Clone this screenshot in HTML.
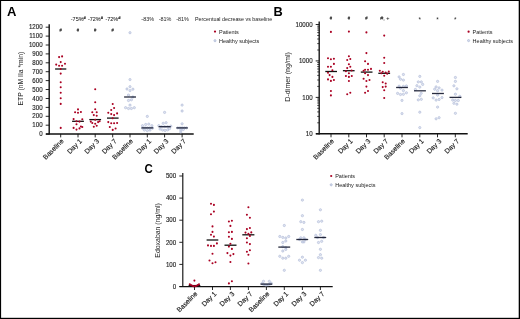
<!DOCTYPE html>
<html lang="en">
<head>
<meta charset="utf-8">
<title>Figure</title>
<style>
html,body{margin:0;padding:0;background:#fff;}
body{width:520px;height:319px;overflow:hidden;}
svg{display:block;font-family:"Liberation Sans", sans-serif;}
.c{stroke:#1a1a1a;stroke-width:0.06px;}
.b{stroke:#1a1a1a;stroke-width:0.13px;stroke-linejoin:round;}
</style>
</head>
<body>
<svg width="520" height="319" viewBox="0 0 520 319">
<rect x="0" y="0" width="520" height="319" fill="#ffffff"/>
<text transform="translate(6.90 15.80) scale(1.06 1)" font-size="12.3" text-anchor="start" font-weight="bold" fill="#000">A</text>
<line x1="49.2" y1="24.2" x2="49.2" y2="134.5" stroke="#111111" stroke-width="1.4"/>
<line x1="45.900000000000006" y1="133.9" x2="193.7" y2="133.9" stroke="#111111" stroke-width="1.45"/>
<line x1="45.7" y1="134.1" x2="49.2" y2="134.1" stroke="#111111" stroke-width="0.9"/>
<text class="b" transform="translate(42.60 136.30) scale(0.88 1)" font-size="7.0" text-anchor="end" font-weight="normal" fill="#1a1a1a">0</text>
<line x1="45.7" y1="125.2" x2="49.2" y2="125.2" stroke="#111111" stroke-width="0.9"/>
<text class="b" transform="translate(42.60 127.39) scale(0.88 1)" font-size="7.0" text-anchor="end" font-weight="normal" fill="#1a1a1a">100</text>
<line x1="45.7" y1="116.3" x2="49.2" y2="116.3" stroke="#111111" stroke-width="0.9"/>
<text class="b" transform="translate(42.60 118.48) scale(0.88 1)" font-size="7.0" text-anchor="end" font-weight="normal" fill="#1a1a1a">200</text>
<line x1="45.7" y1="107.4" x2="49.2" y2="107.4" stroke="#111111" stroke-width="0.9"/>
<text class="b" transform="translate(42.60 109.57) scale(0.88 1)" font-size="7.0" text-anchor="end" font-weight="normal" fill="#1a1a1a">300</text>
<line x1="45.7" y1="98.5" x2="49.2" y2="98.5" stroke="#111111" stroke-width="0.9"/>
<text class="b" transform="translate(42.60 100.66) scale(0.88 1)" font-size="7.0" text-anchor="end" font-weight="normal" fill="#1a1a1a">400</text>
<line x1="45.7" y1="89.5" x2="49.2" y2="89.5" stroke="#111111" stroke-width="0.9"/>
<text class="b" transform="translate(42.60 91.75) scale(0.88 1)" font-size="7.0" text-anchor="end" font-weight="normal" fill="#1a1a1a">500</text>
<line x1="45.7" y1="80.6" x2="49.2" y2="80.6" stroke="#111111" stroke-width="0.9"/>
<text class="b" transform="translate(42.60 82.84) scale(0.88 1)" font-size="7.0" text-anchor="end" font-weight="normal" fill="#1a1a1a">600</text>
<line x1="45.7" y1="71.7" x2="49.2" y2="71.7" stroke="#111111" stroke-width="0.9"/>
<text class="b" transform="translate(42.60 73.93) scale(0.88 1)" font-size="7.0" text-anchor="end" font-weight="normal" fill="#1a1a1a">700</text>
<line x1="45.7" y1="62.8" x2="49.2" y2="62.8" stroke="#111111" stroke-width="0.9"/>
<text class="b" transform="translate(42.60 65.02) scale(0.88 1)" font-size="7.0" text-anchor="end" font-weight="normal" fill="#1a1a1a">800</text>
<line x1="45.7" y1="53.9" x2="49.2" y2="53.9" stroke="#111111" stroke-width="0.9"/>
<text class="b" transform="translate(42.60 56.11) scale(0.88 1)" font-size="7.0" text-anchor="end" font-weight="normal" fill="#1a1a1a">900</text>
<line x1="45.7" y1="45.0" x2="49.2" y2="45.0" stroke="#111111" stroke-width="0.9"/>
<text class="b" transform="translate(42.60 47.20) scale(0.88 1)" font-size="7.0" text-anchor="end" font-weight="normal" fill="#1a1a1a">1000</text>
<line x1="45.7" y1="36.1" x2="49.2" y2="36.1" stroke="#111111" stroke-width="0.9"/>
<text class="b" transform="translate(42.60 38.29) scale(0.88 1)" font-size="7.0" text-anchor="end" font-weight="normal" fill="#1a1a1a">1100</text>
<line x1="45.7" y1="27.2" x2="49.2" y2="27.2" stroke="#111111" stroke-width="0.9"/>
<text class="b" transform="translate(42.60 29.38) scale(0.88 1)" font-size="7.0" text-anchor="end" font-weight="normal" fill="#1a1a1a">1200</text>
<line x1="60.7" y1="133.9" x2="60.7" y2="137.4" stroke="#111111" stroke-width="0.9"/>
<text class="b" transform="translate(64.10 141.70) rotate(-45)" font-size="6.75" text-anchor="end" font-weight="normal" fill="#1a1a1a">Baseline</text>
<line x1="78.0" y1="133.9" x2="78.0" y2="137.4" stroke="#111111" stroke-width="0.9"/>
<text class="b" transform="translate(82.40 141.70) rotate(-45)" font-size="6.75" text-anchor="end" font-weight="normal" fill="#1a1a1a">Day 1</text>
<line x1="95.2" y1="133.9" x2="95.2" y2="137.4" stroke="#111111" stroke-width="0.9"/>
<text class="b" transform="translate(99.60 141.70) rotate(-45)" font-size="6.75" text-anchor="end" font-weight="normal" fill="#1a1a1a">Day 3</text>
<line x1="112.7" y1="133.9" x2="112.7" y2="137.4" stroke="#111111" stroke-width="0.9"/>
<text class="b" transform="translate(117.10 141.70) rotate(-45)" font-size="6.75" text-anchor="end" font-weight="normal" fill="#1a1a1a">Day 7</text>
<line x1="130.0" y1="133.9" x2="130.0" y2="137.4" stroke="#111111" stroke-width="0.9"/>
<text class="b" transform="translate(133.40 141.70) rotate(-45)" font-size="6.75" text-anchor="end" font-weight="normal" fill="#1a1a1a">Baseline</text>
<line x1="147.3" y1="133.9" x2="147.3" y2="137.4" stroke="#111111" stroke-width="0.9"/>
<text class="b" transform="translate(151.70 141.70) rotate(-45)" font-size="6.75" text-anchor="end" font-weight="normal" fill="#1a1a1a">Day 1</text>
<line x1="164.6" y1="133.9" x2="164.6" y2="137.4" stroke="#111111" stroke-width="0.9"/>
<text class="b" transform="translate(169.00 141.70) rotate(-45)" font-size="6.75" text-anchor="end" font-weight="normal" fill="#1a1a1a">Day 3</text>
<line x1="182.1" y1="133.9" x2="182.1" y2="137.4" stroke="#111111" stroke-width="0.9"/>
<text class="b" transform="translate(186.50 141.70) rotate(-45)" font-size="6.75" text-anchor="end" font-weight="normal" fill="#1a1a1a">Day 7</text>
<text transform="translate(22.90 105.50) rotate(-90)" font-size="8.0" text-anchor="start" font-weight="normal" fill="#1a1a1a" textLength="53.80" lengthAdjust="spacingAndGlyphs">ETP (nM IIa *min)</text>
<text class="c" transform="translate(60.70 32.30) scale(0.85 1)" font-size="4.9" text-anchor="middle" font-weight="normal" fill="#1a1a1a">#</text>
<text class="c" transform="translate(78.00 32.30) scale(0.85 1)" font-size="4.9" text-anchor="middle" font-weight="normal" fill="#1a1a1a">#</text>
<text class="c" transform="translate(95.20 32.30) scale(0.85 1)" font-size="4.9" text-anchor="middle" font-weight="normal" fill="#1a1a1a">#</text>
<text class="c" transform="translate(112.70 32.30) scale(0.85 1)" font-size="4.9" text-anchor="middle" font-weight="normal" fill="#1a1a1a">#</text>
<text class="c" x="70.8" y="21.3" font-size="5.45" fill="#1a1a1a">-75%<tspan font-size="4.1" dy="-2.4" font-weight="bold">#</tspan></text>
<text class="c" x="88.0" y="21.3" font-size="5.45" fill="#1a1a1a">-72%<tspan font-size="4.1" dy="-2.4" font-weight="bold">#</tspan></text>
<text class="c" x="105.5" y="21.3" font-size="5.45" fill="#1a1a1a">-72%<tspan font-size="4.1" dy="-2.4" font-weight="bold">#</tspan></text>
<text transform="translate(147.70 21.30)" font-size="5.45" text-anchor="middle" font-weight="normal" fill="#1a1a1a">-83%</text>
<text transform="translate(165.00 21.30)" font-size="5.45" text-anchor="middle" font-weight="normal" fill="#1a1a1a">-81%</text>
<text transform="translate(182.50 21.30)" font-size="5.45" text-anchor="middle" font-weight="normal" fill="#1a1a1a">-81%</text>
<text transform="translate(195.00 21.40)" font-size="5.6" text-anchor="start" font-weight="normal" fill="#1a1a1a" textLength="77.20" lengthAdjust="spacingAndGlyphs">Percentual decrease vs baseline</text>
<circle cx="215.0" cy="31.6" r="1.1" fill="#aa0022"/>
<circle cx="215.0" cy="40.7" r="1.1" fill="#d3daeb" stroke="#a0acce" stroke-width="0.55"/>
<text transform="translate(219.00 33.60)" font-size="5.5" text-anchor="start" font-weight="normal" fill="#1a1a1a">Patients</text>
<text transform="translate(219.00 42.70)" font-size="5.5" text-anchor="start" font-weight="normal" fill="#1a1a1a">Healthy subjects</text>
<line x1="55.1" y1="69.0" x2="66.3" y2="69.0" stroke="#111111" stroke-width="1.3"/>
<circle cx="59.1" cy="57.1" r="1.03" fill="#aa0022"/>
<circle cx="62.1" cy="56.4" r="1.03" fill="#aa0022"/>
<circle cx="60.7" cy="62.1" r="1.03" fill="#aa0022"/>
<circle cx="56.2" cy="64.6" r="1.03" fill="#aa0022"/>
<circle cx="65.0" cy="63.7" r="1.03" fill="#aa0022"/>
<circle cx="59.1" cy="65.8" r="1.03" fill="#aa0022"/>
<circle cx="62.1" cy="65.8" r="1.03" fill="#aa0022"/>
<circle cx="60.7" cy="69.0" r="1.03" fill="#aa0022"/>
<circle cx="60.7" cy="73.6" r="1.03" fill="#aa0022"/>
<circle cx="60.7" cy="82.3" r="1.03" fill="#aa0022"/>
<circle cx="60.7" cy="87.2" r="1.03" fill="#aa0022"/>
<circle cx="60.7" cy="92.7" r="1.03" fill="#aa0022"/>
<circle cx="60.7" cy="98.2" r="1.03" fill="#aa0022"/>
<circle cx="60.7" cy="103.9" r="1.03" fill="#aa0022"/>
<circle cx="60.7" cy="127.9" r="1.03" fill="#aa0022"/>
<line x1="72.1" y1="121.3" x2="83.9" y2="121.3" stroke="#111111" stroke-width="1.3"/>
<circle cx="78.0" cy="109.4" r="1.03" fill="#aa0022"/>
<circle cx="75.1" cy="112.2" r="1.03" fill="#aa0022"/>
<circle cx="78.0" cy="112.8" r="1.03" fill="#aa0022"/>
<circle cx="80.9" cy="112.0" r="1.03" fill="#aa0022"/>
<circle cx="73.6" cy="119.1" r="1.03" fill="#aa0022"/>
<circle cx="82.3" cy="119.2" r="1.03" fill="#aa0022"/>
<circle cx="76.5" cy="121.3" r="1.03" fill="#aa0022"/>
<circle cx="79.5" cy="121.6" r="1.03" fill="#aa0022"/>
<circle cx="76.5" cy="124.2" r="1.03" fill="#aa0022"/>
<circle cx="73.6" cy="127.9" r="1.03" fill="#aa0022"/>
<circle cx="80.9" cy="126.5" r="1.03" fill="#aa0022"/>
<circle cx="82.3" cy="127.0" r="1.03" fill="#aa0022"/>
<circle cx="79.5" cy="128.4" r="1.03" fill="#aa0022"/>
<circle cx="76.5" cy="129.6" r="1.03" fill="#aa0022"/>
<line x1="89.3" y1="119.6" x2="101.1" y2="119.6" stroke="#111111" stroke-width="1.3"/>
<circle cx="95.2" cy="89.3" r="1.03" fill="#aa0022"/>
<circle cx="95.2" cy="102.2" r="1.03" fill="#aa0022"/>
<circle cx="95.2" cy="109.3" r="1.03" fill="#aa0022"/>
<circle cx="92.3" cy="112.2" r="1.03" fill="#aa0022"/>
<circle cx="96.7" cy="112.2" r="1.03" fill="#aa0022"/>
<circle cx="93.8" cy="115.1" r="1.03" fill="#aa0022"/>
<circle cx="96.7" cy="115.7" r="1.03" fill="#aa0022"/>
<circle cx="95.2" cy="119.8" r="1.03" fill="#aa0022"/>
<circle cx="90.8" cy="121.6" r="1.03" fill="#aa0022"/>
<circle cx="99.6" cy="121.3" r="1.03" fill="#aa0022"/>
<circle cx="98.1" cy="122.1" r="1.03" fill="#aa0022"/>
<circle cx="92.3" cy="123.0" r="1.03" fill="#aa0022"/>
<circle cx="95.2" cy="123.8" r="1.03" fill="#aa0022"/>
<circle cx="96.7" cy="125.7" r="1.03" fill="#aa0022"/>
<circle cx="93.8" cy="126.7" r="1.03" fill="#aa0022"/>
<line x1="107.0" y1="118.1" x2="118.6" y2="118.1" stroke="#111111" stroke-width="1.3"/>
<circle cx="112.7" cy="104.0" r="1.03" fill="#aa0022"/>
<circle cx="114.1" cy="108.0" r="1.03" fill="#aa0022"/>
<circle cx="111.2" cy="110.0" r="1.03" fill="#aa0022"/>
<circle cx="108.3" cy="112.8" r="1.03" fill="#aa0022"/>
<circle cx="117.1" cy="113.4" r="1.03" fill="#aa0022"/>
<circle cx="111.2" cy="114.1" r="1.03" fill="#aa0022"/>
<circle cx="114.1" cy="115.1" r="1.03" fill="#aa0022"/>
<circle cx="112.7" cy="118.3" r="1.03" fill="#aa0022"/>
<circle cx="108.3" cy="122.1" r="1.03" fill="#aa0022"/>
<circle cx="111.2" cy="123.2" r="1.03" fill="#aa0022"/>
<circle cx="114.1" cy="123.2" r="1.03" fill="#aa0022"/>
<circle cx="117.1" cy="123.0" r="1.03" fill="#aa0022"/>
<circle cx="109.8" cy="127.0" r="1.03" fill="#aa0022"/>
<circle cx="115.6" cy="128.5" r="1.03" fill="#aa0022"/>
<circle cx="112.7" cy="129.9" r="1.03" fill="#aa0022"/>
<circle cx="130.0" cy="32.7" r="1.15" fill="#d3daeb" fill-opacity="0.75" stroke="#a0acce" stroke-width="0.5"/>
<circle cx="130.0" cy="79.6" r="1.15" fill="#d3daeb" fill-opacity="0.75" stroke="#a0acce" stroke-width="0.5"/>
<circle cx="130.0" cy="86.7" r="1.15" fill="#d3daeb" fill-opacity="0.75" stroke="#a0acce" stroke-width="0.5"/>
<circle cx="127.0" cy="89.0" r="1.15" fill="#d3daeb" fill-opacity="0.75" stroke="#a0acce" stroke-width="0.5"/>
<circle cx="132.9" cy="89.2" r="1.15" fill="#d3daeb" fill-opacity="0.75" stroke="#a0acce" stroke-width="0.5"/>
<circle cx="130.0" cy="90.6" r="1.15" fill="#d3daeb" fill-opacity="0.75" stroke="#a0acce" stroke-width="0.5"/>
<circle cx="128.5" cy="95.1" r="1.15" fill="#d3daeb" fill-opacity="0.75" stroke="#a0acce" stroke-width="0.5"/>
<circle cx="132.9" cy="97.0" r="1.15" fill="#d3daeb" fill-opacity="0.75" stroke="#a0acce" stroke-width="0.5"/>
<circle cx="128.5" cy="100.5" r="1.15" fill="#d3daeb" fill-opacity="0.75" stroke="#a0acce" stroke-width="0.5"/>
<circle cx="131.4" cy="99.8" r="1.15" fill="#d3daeb" fill-opacity="0.75" stroke="#a0acce" stroke-width="0.5"/>
<circle cx="130.0" cy="105.1" r="1.15" fill="#d3daeb" fill-opacity="0.75" stroke="#a0acce" stroke-width="0.5"/>
<circle cx="125.6" cy="107.7" r="1.15" fill="#d3daeb" fill-opacity="0.75" stroke="#a0acce" stroke-width="0.5"/>
<circle cx="128.5" cy="108.5" r="1.15" fill="#d3daeb" fill-opacity="0.75" stroke="#a0acce" stroke-width="0.5"/>
<circle cx="131.4" cy="108.5" r="1.15" fill="#d3daeb" fill-opacity="0.75" stroke="#a0acce" stroke-width="0.5"/>
<circle cx="134.3" cy="107.7" r="1.15" fill="#d3daeb" fill-opacity="0.75" stroke="#a0acce" stroke-width="0.5"/>
<line x1="124.1" y1="97.0" x2="136.0" y2="97.0" stroke="#0a0f24" stroke-opacity="0.88" stroke-width="1.3"/>
<circle cx="147.3" cy="116.4" r="1.15" fill="#d3daeb" fill-opacity="0.75" stroke="#a0acce" stroke-width="0.5"/>
<circle cx="142.5" cy="125.7" r="1.15" fill="#d3daeb" fill-opacity="0.75" stroke="#a0acce" stroke-width="0.5"/>
<circle cx="145.7" cy="124.5" r="1.15" fill="#d3daeb" fill-opacity="0.75" stroke="#a0acce" stroke-width="0.5"/>
<circle cx="148.8" cy="124.1" r="1.15" fill="#d3daeb" fill-opacity="0.75" stroke="#a0acce" stroke-width="0.5"/>
<circle cx="151.9" cy="125.7" r="1.15" fill="#d3daeb" fill-opacity="0.75" stroke="#a0acce" stroke-width="0.5"/>
<circle cx="142.5" cy="128.2" r="1.15" fill="#d3daeb" fill-opacity="0.75" stroke="#a0acce" stroke-width="0.5"/>
<circle cx="152.5" cy="128.2" r="1.15" fill="#d3daeb" fill-opacity="0.75" stroke="#a0acce" stroke-width="0.5"/>
<circle cx="144.4" cy="130.1" r="1.15" fill="#d3daeb" fill-opacity="0.75" stroke="#a0acce" stroke-width="0.5"/>
<circle cx="147.3" cy="130.7" r="1.15" fill="#d3daeb" fill-opacity="0.75" stroke="#a0acce" stroke-width="0.5"/>
<circle cx="150.0" cy="130.1" r="1.15" fill="#d3daeb" fill-opacity="0.75" stroke="#a0acce" stroke-width="0.5"/>
<circle cx="145.0" cy="127.9" r="1.15" fill="#d3daeb" fill-opacity="0.75" stroke="#a0acce" stroke-width="0.5"/>
<circle cx="147.3" cy="127.9" r="1.15" fill="#d3daeb" fill-opacity="0.75" stroke="#a0acce" stroke-width="0.5"/>
<circle cx="149.6" cy="127.9" r="1.15" fill="#d3daeb" fill-opacity="0.75" stroke="#a0acce" stroke-width="0.5"/>
<line x1="141.5" y1="127.9" x2="153.2" y2="127.9" stroke="#0a0f24" stroke-opacity="0.88" stroke-width="1.3"/>
<circle cx="164.6" cy="112.4" r="1.15" fill="#d3daeb" fill-opacity="0.75" stroke="#a0acce" stroke-width="0.5"/>
<circle cx="163.2" cy="123.3" r="1.15" fill="#d3daeb" fill-opacity="0.75" stroke="#a0acce" stroke-width="0.5"/>
<circle cx="166.1" cy="122.7" r="1.15" fill="#d3daeb" fill-opacity="0.75" stroke="#a0acce" stroke-width="0.5"/>
<circle cx="158.8" cy="125.7" r="1.15" fill="#d3daeb" fill-opacity="0.75" stroke="#a0acce" stroke-width="0.5"/>
<circle cx="170.8" cy="126.1" r="1.15" fill="#d3daeb" fill-opacity="0.75" stroke="#a0acce" stroke-width="0.5"/>
<circle cx="160.1" cy="129.1" r="1.15" fill="#d3daeb" fill-opacity="0.75" stroke="#a0acce" stroke-width="0.5"/>
<circle cx="162.6" cy="130.1" r="1.15" fill="#d3daeb" fill-opacity="0.75" stroke="#a0acce" stroke-width="0.5"/>
<circle cx="165.1" cy="130.5" r="1.15" fill="#d3daeb" fill-opacity="0.75" stroke="#a0acce" stroke-width="0.5"/>
<circle cx="167.6" cy="129.9" r="1.15" fill="#d3daeb" fill-opacity="0.75" stroke="#a0acce" stroke-width="0.5"/>
<circle cx="169.5" cy="128.6" r="1.15" fill="#d3daeb" fill-opacity="0.75" stroke="#a0acce" stroke-width="0.5"/>
<circle cx="161.5" cy="126.7" r="1.15" fill="#d3daeb" fill-opacity="0.75" stroke="#a0acce" stroke-width="0.5"/>
<circle cx="164.6" cy="126.7" r="1.15" fill="#d3daeb" fill-opacity="0.75" stroke="#a0acce" stroke-width="0.5"/>
<circle cx="167.6" cy="126.7" r="1.15" fill="#d3daeb" fill-opacity="0.75" stroke="#a0acce" stroke-width="0.5"/>
<line x1="158.6" y1="126.7" x2="170.8" y2="126.7" stroke="#0a0f24" stroke-opacity="0.88" stroke-width="1.3"/>
<circle cx="182.1" cy="105.1" r="1.15" fill="#d3daeb" fill-opacity="0.75" stroke="#a0acce" stroke-width="0.5"/>
<circle cx="182.1" cy="111.0" r="1.15" fill="#d3daeb" fill-opacity="0.75" stroke="#a0acce" stroke-width="0.5"/>
<circle cx="182.1" cy="123.8" r="1.15" fill="#d3daeb" fill-opacity="0.75" stroke="#a0acce" stroke-width="0.5"/>
<circle cx="177.8" cy="127.9" r="1.15" fill="#d3daeb" fill-opacity="0.75" stroke="#a0acce" stroke-width="0.5"/>
<circle cx="180.0" cy="127.9" r="1.15" fill="#d3daeb" fill-opacity="0.75" stroke="#a0acce" stroke-width="0.5"/>
<circle cx="182.1" cy="127.9" r="1.15" fill="#d3daeb" fill-opacity="0.75" stroke="#a0acce" stroke-width="0.5"/>
<circle cx="184.3" cy="127.9" r="1.15" fill="#d3daeb" fill-opacity="0.75" stroke="#a0acce" stroke-width="0.5"/>
<circle cx="186.5" cy="127.9" r="1.15" fill="#d3daeb" fill-opacity="0.75" stroke="#a0acce" stroke-width="0.5"/>
<circle cx="180.8" cy="130.1" r="1.15" fill="#d3daeb" fill-opacity="0.75" stroke="#a0acce" stroke-width="0.5"/>
<circle cx="183.3" cy="129.5" r="1.15" fill="#d3daeb" fill-opacity="0.75" stroke="#a0acce" stroke-width="0.5"/>
<circle cx="180.8" cy="132.0" r="1.15" fill="#d3daeb" fill-opacity="0.75" stroke="#a0acce" stroke-width="0.5"/>
<line x1="176.4" y1="127.9" x2="187.7" y2="127.9" stroke="#0a0f24" stroke-opacity="0.88" stroke-width="1.3"/>
<text transform="translate(273.60 15.80) scale(1.04 1)" font-size="12.3" text-anchor="start" font-weight="bold" fill="#000">B</text>
<line x1="319.2" y1="21.5" x2="319.2" y2="134.4" stroke="#111111" stroke-width="1.35"/>
<line x1="315.9" y1="133.8" x2="467.7" y2="133.8" stroke="#111111" stroke-width="1.5"/>
<line x1="315.7" y1="133.8" x2="319.2" y2="133.8" stroke="#111111" stroke-width="0.9"/>
<text class="b" transform="translate(312.60 136.00) scale(0.88 1)" font-size="7.0" text-anchor="end" font-weight="normal" fill="#1a1a1a">10</text>
<line x1="315.7" y1="97.4" x2="319.2" y2="97.4" stroke="#111111" stroke-width="0.9"/>
<text class="b" transform="translate(312.60 99.57) scale(0.88 1)" font-size="7.0" text-anchor="end" font-weight="normal" fill="#1a1a1a">100</text>
<line x1="315.7" y1="60.9" x2="319.2" y2="60.9" stroke="#111111" stroke-width="0.9"/>
<text class="b" transform="translate(312.60 63.13) scale(0.88 1)" font-size="7.0" text-anchor="end" font-weight="normal" fill="#1a1a1a">1000</text>
<line x1="315.7" y1="24.5" x2="319.2" y2="24.5" stroke="#111111" stroke-width="0.9"/>
<text class="b" transform="translate(312.60 26.70) scale(0.88 1)" font-size="7.0" text-anchor="end" font-weight="normal" fill="#1a1a1a">10000</text>
<line x1="317.2" y1="122.8" x2="319.2" y2="122.8" stroke="#111111" stroke-width="0.75"/>
<line x1="317.2" y1="116.4" x2="319.2" y2="116.4" stroke="#111111" stroke-width="0.75"/>
<line x1="317.2" y1="111.9" x2="319.2" y2="111.9" stroke="#111111" stroke-width="0.75"/>
<line x1="317.2" y1="108.3" x2="319.2" y2="108.3" stroke="#111111" stroke-width="0.75"/>
<line x1="317.2" y1="105.4" x2="319.2" y2="105.4" stroke="#111111" stroke-width="0.75"/>
<line x1="317.2" y1="103.0" x2="319.2" y2="103.0" stroke="#111111" stroke-width="0.75"/>
<line x1="317.2" y1="100.9" x2="319.2" y2="100.9" stroke="#111111" stroke-width="0.75"/>
<line x1="317.2" y1="99.0" x2="319.2" y2="99.0" stroke="#111111" stroke-width="0.75"/>
<line x1="317.2" y1="86.4" x2="319.2" y2="86.4" stroke="#111111" stroke-width="0.75"/>
<line x1="317.2" y1="80.0" x2="319.2" y2="80.0" stroke="#111111" stroke-width="0.75"/>
<line x1="317.2" y1="75.4" x2="319.2" y2="75.4" stroke="#111111" stroke-width="0.75"/>
<line x1="317.2" y1="71.9" x2="319.2" y2="71.9" stroke="#111111" stroke-width="0.75"/>
<line x1="317.2" y1="69.0" x2="319.2" y2="69.0" stroke="#111111" stroke-width="0.75"/>
<line x1="317.2" y1="66.6" x2="319.2" y2="66.6" stroke="#111111" stroke-width="0.75"/>
<line x1="317.2" y1="64.5" x2="319.2" y2="64.5" stroke="#111111" stroke-width="0.75"/>
<line x1="317.2" y1="62.6" x2="319.2" y2="62.6" stroke="#111111" stroke-width="0.75"/>
<line x1="317.2" y1="50.0" x2="319.2" y2="50.0" stroke="#111111" stroke-width="0.75"/>
<line x1="317.2" y1="43.6" x2="319.2" y2="43.6" stroke="#111111" stroke-width="0.75"/>
<line x1="317.2" y1="39.0" x2="319.2" y2="39.0" stroke="#111111" stroke-width="0.75"/>
<line x1="317.2" y1="35.5" x2="319.2" y2="35.5" stroke="#111111" stroke-width="0.75"/>
<line x1="317.2" y1="32.6" x2="319.2" y2="32.6" stroke="#111111" stroke-width="0.75"/>
<line x1="317.2" y1="30.1" x2="319.2" y2="30.1" stroke="#111111" stroke-width="0.75"/>
<line x1="317.2" y1="28.0" x2="319.2" y2="28.0" stroke="#111111" stroke-width="0.75"/>
<line x1="317.2" y1="26.2" x2="319.2" y2="26.2" stroke="#111111" stroke-width="0.75"/>
<line x1="331.0" y1="133.8" x2="331.0" y2="137.3" stroke="#111111" stroke-width="0.9"/>
<text class="b" transform="translate(334.40 141.60) rotate(-45)" font-size="6.75" text-anchor="end" font-weight="normal" fill="#1a1a1a">Baseline</text>
<line x1="348.8" y1="133.8" x2="348.8" y2="137.3" stroke="#111111" stroke-width="0.9"/>
<text class="b" transform="translate(353.20 141.60) rotate(-45)" font-size="6.75" text-anchor="end" font-weight="normal" fill="#1a1a1a">Day 1</text>
<line x1="366.5" y1="133.8" x2="366.5" y2="137.3" stroke="#111111" stroke-width="0.9"/>
<text class="b" transform="translate(370.90 141.60) rotate(-45)" font-size="6.75" text-anchor="end" font-weight="normal" fill="#1a1a1a">Day 3</text>
<line x1="384.2" y1="133.8" x2="384.2" y2="137.3" stroke="#111111" stroke-width="0.9"/>
<text class="b" transform="translate(388.60 141.60) rotate(-45)" font-size="6.75" text-anchor="end" font-weight="normal" fill="#1a1a1a">Day 7</text>
<line x1="402.0" y1="133.8" x2="402.0" y2="137.3" stroke="#111111" stroke-width="0.9"/>
<text class="b" transform="translate(405.40 141.60) rotate(-45)" font-size="6.75" text-anchor="end" font-weight="normal" fill="#1a1a1a">Baseline</text>
<line x1="419.8" y1="133.8" x2="419.8" y2="137.3" stroke="#111111" stroke-width="0.9"/>
<text class="b" transform="translate(424.20 141.60) rotate(-45)" font-size="6.75" text-anchor="end" font-weight="normal" fill="#1a1a1a">Day 1</text>
<line x1="437.5" y1="133.8" x2="437.5" y2="137.3" stroke="#111111" stroke-width="0.9"/>
<text class="b" transform="translate(441.90 141.60) rotate(-45)" font-size="6.75" text-anchor="end" font-weight="normal" fill="#1a1a1a">Day 3</text>
<line x1="455.3" y1="133.8" x2="455.3" y2="137.3" stroke="#111111" stroke-width="0.9"/>
<text class="b" transform="translate(459.70 141.60) rotate(-45)" font-size="6.75" text-anchor="end" font-weight="normal" fill="#1a1a1a">Day 7</text>
<text transform="translate(289.70 101.70) rotate(-90)" font-size="8.0" text-anchor="start" font-weight="normal" fill="#1a1a1a" textLength="49.60" lengthAdjust="spacingAndGlyphs">D-dimer (ng/ml)</text>
<text class="c" transform="translate(331.00 19.60) scale(0.85 1)" font-size="4.9" text-anchor="middle" font-weight="normal" fill="#1a1a1a">#</text>
<text class="c" transform="translate(348.80 19.60) scale(0.85 1)" font-size="4.9" text-anchor="middle" font-weight="normal" fill="#1a1a1a">#</text>
<text class="c" transform="translate(366.50 19.60) scale(0.85 1)" font-size="4.9" text-anchor="middle" font-weight="normal" fill="#1a1a1a">#</text>
<text class="c" transform="translate(380.20 19.60)" font-size="4.9" text-anchor="start" font-weight="normal" fill="#1a1a1a" textLength="9.20" lengthAdjust="spacingAndGlyphs">#, +</text>
<text transform="translate(419.80 21.50)" font-size="6.4" text-anchor="middle" font-weight="normal" fill="#2a2a2a">*</text>
<text transform="translate(437.50 21.50)" font-size="6.4" text-anchor="middle" font-weight="normal" fill="#2a2a2a">*</text>
<text transform="translate(455.30 21.50)" font-size="6.4" text-anchor="middle" font-weight="normal" fill="#2a2a2a">*</text>
<circle cx="468.6" cy="31.7" r="1.1" fill="#aa0022"/>
<circle cx="468.6" cy="40.6" r="1.1" fill="#d3daeb" stroke="#a0acce" stroke-width="0.55"/>
<text transform="translate(472.60 33.70)" font-size="5.5" text-anchor="start" font-weight="normal" fill="#1a1a1a">Patients</text>
<text transform="translate(472.60 42.60)" font-size="5.5" text-anchor="start" font-weight="normal" fill="#1a1a1a">Healthy subjects</text>
<line x1="325.3" y1="71.5" x2="337.0" y2="71.5" stroke="#111111" stroke-width="1.3"/>
<circle cx="330.9" cy="31.9" r="1.03" fill="#aa0022"/>
<circle cx="328.0" cy="58.3" r="1.03" fill="#aa0022"/>
<circle cx="330.9" cy="59.3" r="1.03" fill="#aa0022"/>
<circle cx="333.9" cy="58.7" r="1.03" fill="#aa0022"/>
<circle cx="333.9" cy="63.9" r="1.03" fill="#aa0022"/>
<circle cx="328.0" cy="66.8" r="1.03" fill="#aa0022"/>
<circle cx="330.9" cy="66.8" r="1.03" fill="#aa0022"/>
<circle cx="332.4" cy="70.3" r="1.03" fill="#aa0022"/>
<circle cx="328.0" cy="72.7" r="1.03" fill="#aa0022"/>
<circle cx="329.6" cy="75.1" r="1.03" fill="#aa0022"/>
<circle cx="332.4" cy="76.9" r="1.03" fill="#aa0022"/>
<circle cx="328.0" cy="79.4" r="1.03" fill="#aa0022"/>
<circle cx="330.9" cy="80.9" r="1.03" fill="#aa0022"/>
<circle cx="333.9" cy="80.0" r="1.03" fill="#aa0022"/>
<circle cx="330.9" cy="91.0" r="1.03" fill="#aa0022"/>
<circle cx="330.9" cy="95.4" r="1.03" fill="#aa0022"/>
<line x1="342.9" y1="70.7" x2="354.6" y2="70.7" stroke="#111111" stroke-width="1.3"/>
<circle cx="348.9" cy="31.6" r="1.03" fill="#aa0022"/>
<circle cx="348.9" cy="56.3" r="1.03" fill="#aa0022"/>
<circle cx="347.2" cy="60.0" r="1.03" fill="#aa0022"/>
<circle cx="350.3" cy="59.0" r="1.03" fill="#aa0022"/>
<circle cx="348.9" cy="64.2" r="1.03" fill="#aa0022"/>
<circle cx="350.3" cy="66.8" r="1.03" fill="#aa0022"/>
<circle cx="347.2" cy="68.1" r="1.03" fill="#aa0022"/>
<circle cx="345.9" cy="71.3" r="1.03" fill="#aa0022"/>
<circle cx="351.6" cy="70.5" r="1.03" fill="#aa0022"/>
<circle cx="348.9" cy="73.2" r="1.03" fill="#aa0022"/>
<circle cx="345.9" cy="76.0" r="1.03" fill="#aa0022"/>
<circle cx="348.9" cy="76.9" r="1.03" fill="#aa0022"/>
<circle cx="351.8" cy="76.0" r="1.03" fill="#aa0022"/>
<circle cx="348.9" cy="81.0" r="1.03" fill="#aa0022"/>
<circle cx="347.2" cy="94.2" r="1.03" fill="#aa0022"/>
<circle cx="350.3" cy="92.8" r="1.03" fill="#aa0022"/>
<line x1="360.8" y1="72.1" x2="372.5" y2="72.1" stroke="#111111" stroke-width="1.3"/>
<circle cx="366.4" cy="32.4" r="1.03" fill="#aa0022"/>
<circle cx="366.4" cy="53.1" r="1.03" fill="#aa0022"/>
<circle cx="365.1" cy="61.3" r="1.03" fill="#aa0022"/>
<circle cx="368.0" cy="63.9" r="1.03" fill="#aa0022"/>
<circle cx="371.0" cy="68.9" r="1.03" fill="#aa0022"/>
<circle cx="365.1" cy="69.7" r="1.03" fill="#aa0022"/>
<circle cx="368.0" cy="69.8" r="1.03" fill="#aa0022"/>
<circle cx="363.6" cy="70.8" r="1.03" fill="#aa0022"/>
<circle cx="365.1" cy="73.2" r="1.03" fill="#aa0022"/>
<circle cx="368.0" cy="75.1" r="1.03" fill="#aa0022"/>
<circle cx="363.6" cy="78.7" r="1.03" fill="#aa0022"/>
<circle cx="369.5" cy="80.0" r="1.03" fill="#aa0022"/>
<circle cx="366.4" cy="81.0" r="1.03" fill="#aa0022"/>
<circle cx="366.4" cy="86.6" r="1.03" fill="#aa0022"/>
<circle cx="365.1" cy="92.7" r="1.03" fill="#aa0022"/>
<circle cx="368.0" cy="91.0" r="1.03" fill="#aa0022"/>
<line x1="378.3" y1="73.3" x2="390.1" y2="73.3" stroke="#111111" stroke-width="1.3"/>
<circle cx="384.2" cy="35.6" r="1.03" fill="#aa0022"/>
<circle cx="384.2" cy="57.8" r="1.03" fill="#aa0022"/>
<circle cx="384.2" cy="63.0" r="1.03" fill="#aa0022"/>
<circle cx="379.8" cy="70.7" r="1.03" fill="#aa0022"/>
<circle cx="382.7" cy="71.8" r="1.03" fill="#aa0022"/>
<circle cx="385.7" cy="72.5" r="1.03" fill="#aa0022"/>
<circle cx="388.8" cy="71.6" r="1.03" fill="#aa0022"/>
<circle cx="381.3" cy="73.3" r="1.03" fill="#aa0022"/>
<circle cx="387.2" cy="73.8" r="1.03" fill="#aa0022"/>
<circle cx="384.2" cy="75.8" r="1.03" fill="#aa0022"/>
<circle cx="382.7" cy="82.2" r="1.03" fill="#aa0022"/>
<circle cx="385.7" cy="83.5" r="1.03" fill="#aa0022"/>
<circle cx="382.7" cy="87.1" r="1.03" fill="#aa0022"/>
<circle cx="385.7" cy="86.6" r="1.03" fill="#aa0022"/>
<circle cx="384.2" cy="90.2" r="1.03" fill="#aa0022"/>
<circle cx="384.2" cy="98.0" r="1.03" fill="#aa0022"/>
<circle cx="403.4" cy="74.5" r="1.15" fill="#d3daeb" fill-opacity="0.75" stroke="#a0acce" stroke-width="0.5"/>
<circle cx="399.1" cy="76.9" r="1.15" fill="#d3daeb" fill-opacity="0.75" stroke="#a0acce" stroke-width="0.5"/>
<circle cx="400.5" cy="79.2" r="1.15" fill="#d3daeb" fill-opacity="0.75" stroke="#a0acce" stroke-width="0.5"/>
<circle cx="403.4" cy="80.1" r="1.15" fill="#d3daeb" fill-opacity="0.75" stroke="#a0acce" stroke-width="0.5"/>
<circle cx="399.1" cy="86.2" r="1.15" fill="#d3daeb" fill-opacity="0.75" stroke="#a0acce" stroke-width="0.5"/>
<circle cx="403.4" cy="86.4" r="1.15" fill="#d3daeb" fill-opacity="0.75" stroke="#a0acce" stroke-width="0.5"/>
<circle cx="406.4" cy="86.0" r="1.15" fill="#d3daeb" fill-opacity="0.75" stroke="#a0acce" stroke-width="0.5"/>
<circle cx="400.5" cy="88.2" r="1.15" fill="#d3daeb" fill-opacity="0.75" stroke="#a0acce" stroke-width="0.5"/>
<circle cx="403.4" cy="90.6" r="1.15" fill="#d3daeb" fill-opacity="0.75" stroke="#a0acce" stroke-width="0.5"/>
<circle cx="397.6" cy="93.4" r="1.15" fill="#d3daeb" fill-opacity="0.75" stroke="#a0acce" stroke-width="0.5"/>
<circle cx="400.5" cy="94.5" r="1.15" fill="#d3daeb" fill-opacity="0.75" stroke="#a0acce" stroke-width="0.5"/>
<circle cx="403.4" cy="94.3" r="1.15" fill="#d3daeb" fill-opacity="0.75" stroke="#a0acce" stroke-width="0.5"/>
<circle cx="406.4" cy="92.8" r="1.15" fill="#d3daeb" fill-opacity="0.75" stroke="#a0acce" stroke-width="0.5"/>
<circle cx="402.0" cy="100.4" r="1.15" fill="#d3daeb" fill-opacity="0.75" stroke="#a0acce" stroke-width="0.5"/>
<circle cx="402.0" cy="113.6" r="1.15" fill="#d3daeb" fill-opacity="0.75" stroke="#a0acce" stroke-width="0.5"/>
<line x1="396.1" y1="87.5" x2="407.9" y2="87.5" stroke="#0a0f24" stroke-opacity="0.88" stroke-width="1.3"/>
<circle cx="419.8" cy="76.4" r="1.15" fill="#d3daeb" fill-opacity="0.75" stroke="#a0acce" stroke-width="0.5"/>
<circle cx="418.3" cy="81.9" r="1.15" fill="#d3daeb" fill-opacity="0.75" stroke="#a0acce" stroke-width="0.5"/>
<circle cx="421.3" cy="81.9" r="1.15" fill="#d3daeb" fill-opacity="0.75" stroke="#a0acce" stroke-width="0.5"/>
<circle cx="422.7" cy="84.4" r="1.15" fill="#d3daeb" fill-opacity="0.75" stroke="#a0acce" stroke-width="0.5"/>
<circle cx="416.9" cy="85.7" r="1.15" fill="#d3daeb" fill-opacity="0.75" stroke="#a0acce" stroke-width="0.5"/>
<circle cx="419.8" cy="87.1" r="1.15" fill="#d3daeb" fill-opacity="0.75" stroke="#a0acce" stroke-width="0.5"/>
<circle cx="415.4" cy="89.5" r="1.15" fill="#d3daeb" fill-opacity="0.75" stroke="#a0acce" stroke-width="0.5"/>
<circle cx="421.2" cy="93.3" r="1.15" fill="#d3daeb" fill-opacity="0.75" stroke="#a0acce" stroke-width="0.5"/>
<circle cx="419.8" cy="95.8" r="1.15" fill="#d3daeb" fill-opacity="0.75" stroke="#a0acce" stroke-width="0.5"/>
<circle cx="418.3" cy="99.9" r="1.15" fill="#d3daeb" fill-opacity="0.75" stroke="#a0acce" stroke-width="0.5"/>
<circle cx="421.3" cy="99.3" r="1.15" fill="#d3daeb" fill-opacity="0.75" stroke="#a0acce" stroke-width="0.5"/>
<circle cx="419.8" cy="112.2" r="1.15" fill="#d3daeb" fill-opacity="0.75" stroke="#a0acce" stroke-width="0.5"/>
<circle cx="419.8" cy="127.6" r="1.15" fill="#d3daeb" fill-opacity="0.75" stroke="#a0acce" stroke-width="0.5"/>
<line x1="414.0" y1="90.8" x2="425.9" y2="90.8" stroke="#0a0f24" stroke-opacity="0.88" stroke-width="1.3"/>
<circle cx="437.6" cy="81.4" r="1.15" fill="#d3daeb" fill-opacity="0.75" stroke="#a0acce" stroke-width="0.5"/>
<circle cx="436.1" cy="86.9" r="1.15" fill="#d3daeb" fill-opacity="0.75" stroke="#a0acce" stroke-width="0.5"/>
<circle cx="439.1" cy="87.9" r="1.15" fill="#d3daeb" fill-opacity="0.75" stroke="#a0acce" stroke-width="0.5"/>
<circle cx="434.7" cy="89.2" r="1.15" fill="#d3daeb" fill-opacity="0.75" stroke="#a0acce" stroke-width="0.5"/>
<circle cx="437.6" cy="90.7" r="1.15" fill="#d3daeb" fill-opacity="0.75" stroke="#a0acce" stroke-width="0.5"/>
<circle cx="442.0" cy="90.1" r="1.15" fill="#d3daeb" fill-opacity="0.75" stroke="#a0acce" stroke-width="0.5"/>
<circle cx="437.6" cy="95.1" r="1.15" fill="#d3daeb" fill-opacity="0.75" stroke="#a0acce" stroke-width="0.5"/>
<circle cx="433.2" cy="97.9" r="1.15" fill="#d3daeb" fill-opacity="0.75" stroke="#a0acce" stroke-width="0.5"/>
<circle cx="442.0" cy="97.6" r="1.15" fill="#d3daeb" fill-opacity="0.75" stroke="#a0acce" stroke-width="0.5"/>
<circle cx="436.1" cy="100.1" r="1.15" fill="#d3daeb" fill-opacity="0.75" stroke="#a0acce" stroke-width="0.5"/>
<circle cx="439.1" cy="99.5" r="1.15" fill="#d3daeb" fill-opacity="0.75" stroke="#a0acce" stroke-width="0.5"/>
<circle cx="437.6" cy="107.1" r="1.15" fill="#d3daeb" fill-opacity="0.75" stroke="#a0acce" stroke-width="0.5"/>
<circle cx="436.1" cy="118.8" r="1.15" fill="#d3daeb" fill-opacity="0.75" stroke="#a0acce" stroke-width="0.5"/>
<circle cx="439.1" cy="117.7" r="1.15" fill="#d3daeb" fill-opacity="0.75" stroke="#a0acce" stroke-width="0.5"/>
<line x1="432.0" y1="93.5" x2="443.9" y2="93.5" stroke="#0a0f24" stroke-opacity="0.88" stroke-width="1.3"/>
<circle cx="455.4" cy="77.5" r="1.15" fill="#d3daeb" fill-opacity="0.75" stroke="#a0acce" stroke-width="0.5"/>
<circle cx="455.4" cy="81.4" r="1.15" fill="#d3daeb" fill-opacity="0.75" stroke="#a0acce" stroke-width="0.5"/>
<circle cx="453.9" cy="85.8" r="1.15" fill="#d3daeb" fill-opacity="0.75" stroke="#a0acce" stroke-width="0.5"/>
<circle cx="456.9" cy="88.8" r="1.15" fill="#d3daeb" fill-opacity="0.75" stroke="#a0acce" stroke-width="0.5"/>
<circle cx="455.4" cy="94.2" r="1.15" fill="#d3daeb" fill-opacity="0.75" stroke="#a0acce" stroke-width="0.5"/>
<circle cx="459.8" cy="96.3" r="1.15" fill="#d3daeb" fill-opacity="0.75" stroke="#a0acce" stroke-width="0.5"/>
<circle cx="452.7" cy="100.1" r="1.15" fill="#d3daeb" fill-opacity="0.75" stroke="#a0acce" stroke-width="0.5"/>
<circle cx="455.4" cy="100.5" r="1.15" fill="#d3daeb" fill-opacity="0.75" stroke="#a0acce" stroke-width="0.5"/>
<circle cx="458.3" cy="100.5" r="1.15" fill="#d3daeb" fill-opacity="0.75" stroke="#a0acce" stroke-width="0.5"/>
<circle cx="453.9" cy="103.3" r="1.15" fill="#d3daeb" fill-opacity="0.75" stroke="#a0acce" stroke-width="0.5"/>
<circle cx="456.9" cy="104.2" r="1.15" fill="#d3daeb" fill-opacity="0.75" stroke="#a0acce" stroke-width="0.5"/>
<circle cx="455.4" cy="113.3" r="1.15" fill="#d3daeb" fill-opacity="0.75" stroke="#a0acce" stroke-width="0.5"/>
<line x1="449.5" y1="97.4" x2="461.4" y2="97.4" stroke="#0a0f24" stroke-opacity="0.88" stroke-width="1.3"/>
<text transform="translate(144.50 173.10) scale(0.93 1)" font-size="12.3" text-anchor="start" font-weight="bold" fill="#000">C</text>
<line x1="182.8" y1="173.0" x2="182.8" y2="287.1" stroke="#111111" stroke-width="1.15"/>
<line x1="179.5" y1="286.5" x2="332.7" y2="286.5" stroke="#111111" stroke-width="1.25"/>
<line x1="179.3" y1="286.5" x2="182.8" y2="286.5" stroke="#111111" stroke-width="0.9"/>
<text class="b" transform="translate(176.20 288.70) scale(0.88 1)" font-size="7.0" text-anchor="end" font-weight="normal" fill="#1a1a1a">0</text>
<line x1="179.3" y1="264.4" x2="182.8" y2="264.4" stroke="#111111" stroke-width="0.9"/>
<text class="b" transform="translate(176.20 266.60) scale(0.88 1)" font-size="7.0" text-anchor="end" font-weight="normal" fill="#1a1a1a">100</text>
<line x1="179.3" y1="242.3" x2="182.8" y2="242.3" stroke="#111111" stroke-width="0.9"/>
<text class="b" transform="translate(176.20 244.50) scale(0.88 1)" font-size="7.0" text-anchor="end" font-weight="normal" fill="#1a1a1a">200</text>
<line x1="179.3" y1="220.2" x2="182.8" y2="220.2" stroke="#111111" stroke-width="0.9"/>
<text class="b" transform="translate(176.20 222.40) scale(0.88 1)" font-size="7.0" text-anchor="end" font-weight="normal" fill="#1a1a1a">300</text>
<line x1="179.3" y1="198.1" x2="182.8" y2="198.1" stroke="#111111" stroke-width="0.9"/>
<text class="b" transform="translate(176.20 200.30) scale(0.88 1)" font-size="7.0" text-anchor="end" font-weight="normal" fill="#1a1a1a">400</text>
<line x1="179.3" y1="176.0" x2="182.8" y2="176.0" stroke="#111111" stroke-width="0.9"/>
<text class="b" transform="translate(176.20 178.20) scale(0.88 1)" font-size="7.0" text-anchor="end" font-weight="normal" fill="#1a1a1a">500</text>
<line x1="194.5" y1="286.5" x2="194.5" y2="290.0" stroke="#111111" stroke-width="0.9"/>
<text class="b" transform="translate(197.90 294.30) rotate(-45)" font-size="6.75" text-anchor="end" font-weight="normal" fill="#1a1a1a">Baseline</text>
<line x1="212.5" y1="286.5" x2="212.5" y2="290.0" stroke="#111111" stroke-width="0.9"/>
<text class="b" transform="translate(216.90 294.30) rotate(-45)" font-size="6.75" text-anchor="end" font-weight="normal" fill="#1a1a1a">Day 1</text>
<line x1="230.4" y1="286.5" x2="230.4" y2="290.0" stroke="#111111" stroke-width="0.9"/>
<text class="b" transform="translate(234.80 294.30) rotate(-45)" font-size="6.75" text-anchor="end" font-weight="normal" fill="#1a1a1a">Day 3</text>
<line x1="248.4" y1="286.5" x2="248.4" y2="290.0" stroke="#111111" stroke-width="0.9"/>
<text class="b" transform="translate(252.80 294.30) rotate(-45)" font-size="6.75" text-anchor="end" font-weight="normal" fill="#1a1a1a">Day 7</text>
<line x1="266.4" y1="286.5" x2="266.4" y2="290.0" stroke="#111111" stroke-width="0.9"/>
<text class="b" transform="translate(269.80 294.30) rotate(-45)" font-size="6.75" text-anchor="end" font-weight="normal" fill="#1a1a1a">Baseline</text>
<line x1="284.3" y1="286.5" x2="284.3" y2="290.0" stroke="#111111" stroke-width="0.9"/>
<text class="b" transform="translate(288.70 294.30) rotate(-45)" font-size="6.75" text-anchor="end" font-weight="normal" fill="#1a1a1a">Day 1</text>
<line x1="302.4" y1="286.5" x2="302.4" y2="290.0" stroke="#111111" stroke-width="0.9"/>
<text class="b" transform="translate(306.80 294.30) rotate(-45)" font-size="6.75" text-anchor="end" font-weight="normal" fill="#1a1a1a">Day 3</text>
<line x1="320.4" y1="286.5" x2="320.4" y2="290.0" stroke="#111111" stroke-width="0.9"/>
<text class="b" transform="translate(324.80 294.30) rotate(-45)" font-size="6.75" text-anchor="end" font-weight="normal" fill="#1a1a1a">Day 7</text>
<text transform="translate(160.10 257.70) rotate(-90)" font-size="8.0" text-anchor="start" font-weight="normal" fill="#1a1a1a" textLength="54.60" lengthAdjust="spacingAndGlyphs">Edoxaban (ng/ml)</text>
<circle cx="331.2" cy="176.0" r="1.1" fill="#aa0022"/>
<circle cx="331.2" cy="184.8" r="1.1" fill="#d3daeb" stroke="#a0acce" stroke-width="0.55"/>
<text transform="translate(335.20 178.00)" font-size="5.5" text-anchor="start" font-weight="normal" fill="#1a1a1a">Patients</text>
<text transform="translate(335.20 186.80)" font-size="5.5" text-anchor="start" font-weight="normal" fill="#1a1a1a">Healthy subjects</text>
<line x1="188.6" y1="285.6" x2="200.3" y2="285.6" stroke="#111111" stroke-width="1.3"/>
<circle cx="194.4" cy="280.6" r="1.03" fill="#aa0022"/>
<circle cx="189.8" cy="284.3" r="1.03" fill="#aa0022"/>
<circle cx="191.0" cy="285.1" r="1.03" fill="#aa0022"/>
<circle cx="192.4" cy="285.8" r="1.03" fill="#aa0022"/>
<circle cx="193.7" cy="286.2" r="1.03" fill="#aa0022"/>
<circle cx="195.1" cy="286.2" r="1.03" fill="#aa0022"/>
<circle cx="196.4" cy="285.8" r="1.03" fill="#aa0022"/>
<circle cx="197.8" cy="285.1" r="1.03" fill="#aa0022"/>
<circle cx="199.0" cy="284.3" r="1.03" fill="#aa0022"/>
<line x1="206.6" y1="240.0" x2="218.3" y2="240.0" stroke="#111111" stroke-width="1.3"/>
<circle cx="211.0" cy="203.7" r="1.03" fill="#aa0022"/>
<circle cx="213.9" cy="204.9" r="1.03" fill="#aa0022"/>
<circle cx="213.9" cy="211.6" r="1.03" fill="#aa0022"/>
<circle cx="211.0" cy="214.2" r="1.03" fill="#aa0022"/>
<circle cx="212.5" cy="226.4" r="1.03" fill="#aa0022"/>
<circle cx="212.5" cy="231.9" r="1.03" fill="#aa0022"/>
<circle cx="211.0" cy="234.8" r="1.03" fill="#aa0022"/>
<circle cx="213.9" cy="236.6" r="1.03" fill="#aa0022"/>
<circle cx="216.9" cy="243.4" r="1.03" fill="#aa0022"/>
<circle cx="208.0" cy="245.4" r="1.03" fill="#aa0022"/>
<circle cx="211.0" cy="245.9" r="1.03" fill="#aa0022"/>
<circle cx="213.9" cy="245.9" r="1.03" fill="#aa0022"/>
<circle cx="212.5" cy="253.7" r="1.03" fill="#aa0022"/>
<circle cx="209.5" cy="260.5" r="1.03" fill="#aa0022"/>
<circle cx="212.5" cy="263.2" r="1.03" fill="#aa0022"/>
<circle cx="215.5" cy="262.2" r="1.03" fill="#aa0022"/>
<line x1="224.5" y1="245.2" x2="236.5" y2="245.2" stroke="#111111" stroke-width="1.3"/>
<circle cx="228.9" cy="221.5" r="1.03" fill="#aa0022"/>
<circle cx="231.9" cy="220.7" r="1.03" fill="#aa0022"/>
<circle cx="230.4" cy="225.9" r="1.03" fill="#aa0022"/>
<circle cx="228.9" cy="232.3" r="1.03" fill="#aa0022"/>
<circle cx="231.9" cy="231.9" r="1.03" fill="#aa0022"/>
<circle cx="228.9" cy="236.8" r="1.03" fill="#aa0022"/>
<circle cx="231.9" cy="238.9" r="1.03" fill="#aa0022"/>
<circle cx="230.4" cy="243.8" r="1.03" fill="#aa0022"/>
<circle cx="228.9" cy="246.6" r="1.03" fill="#aa0022"/>
<circle cx="231.9" cy="248.9" r="1.03" fill="#aa0022"/>
<circle cx="227.4" cy="253.1" r="1.03" fill="#aa0022"/>
<circle cx="233.4" cy="254.1" r="1.03" fill="#aa0022"/>
<circle cx="230.4" cy="255.6" r="1.03" fill="#aa0022"/>
<circle cx="230.4" cy="262.0" r="1.03" fill="#aa0022"/>
<circle cx="228.9" cy="283.4" r="1.03" fill="#aa0022"/>
<circle cx="231.9" cy="281.3" r="1.03" fill="#aa0022"/>
<line x1="242.3" y1="234.8" x2="254.4" y2="234.8" stroke="#111111" stroke-width="1.3"/>
<circle cx="248.4" cy="207.2" r="1.03" fill="#aa0022"/>
<circle cx="246.9" cy="214.8" r="1.03" fill="#aa0022"/>
<circle cx="249.9" cy="217.8" r="1.03" fill="#aa0022"/>
<circle cx="249.9" cy="228.0" r="1.03" fill="#aa0022"/>
<circle cx="246.9" cy="229.1" r="1.03" fill="#aa0022"/>
<circle cx="245.5" cy="232.6" r="1.03" fill="#aa0022"/>
<circle cx="248.4" cy="233.9" r="1.03" fill="#aa0022"/>
<circle cx="251.3" cy="232.4" r="1.03" fill="#aa0022"/>
<circle cx="249.9" cy="235.9" r="1.03" fill="#aa0022"/>
<circle cx="246.9" cy="238.3" r="1.03" fill="#aa0022"/>
<circle cx="246.9" cy="242.5" r="1.03" fill="#aa0022"/>
<circle cx="249.9" cy="244.1" r="1.03" fill="#aa0022"/>
<circle cx="249.9" cy="250.3" r="1.03" fill="#aa0022"/>
<circle cx="246.9" cy="251.8" r="1.03" fill="#aa0022"/>
<circle cx="248.4" cy="254.8" r="1.03" fill="#aa0022"/>
<circle cx="248.4" cy="263.5" r="1.03" fill="#aa0022"/>
<circle cx="263.5" cy="281.3" r="1.15" fill="#d3daeb" fill-opacity="0.75" stroke="#a0acce" stroke-width="0.5"/>
<circle cx="269.3" cy="281.3" r="1.15" fill="#d3daeb" fill-opacity="0.75" stroke="#a0acce" stroke-width="0.5"/>
<circle cx="262.0" cy="283.6" r="1.15" fill="#d3daeb" fill-opacity="0.75" stroke="#a0acce" stroke-width="0.5"/>
<circle cx="263.6" cy="284.5" r="1.15" fill="#d3daeb" fill-opacity="0.75" stroke="#a0acce" stroke-width="0.5"/>
<circle cx="265.3" cy="285.0" r="1.15" fill="#d3daeb" fill-opacity="0.75" stroke="#a0acce" stroke-width="0.5"/>
<circle cx="266.9" cy="285.0" r="1.15" fill="#d3daeb" fill-opacity="0.75" stroke="#a0acce" stroke-width="0.5"/>
<circle cx="268.6" cy="284.6" r="1.15" fill="#d3daeb" fill-opacity="0.75" stroke="#a0acce" stroke-width="0.5"/>
<circle cx="270.3" cy="283.8" r="1.15" fill="#d3daeb" fill-opacity="0.75" stroke="#a0acce" stroke-width="0.5"/>
<circle cx="271.2" cy="283.2" r="1.15" fill="#d3daeb" fill-opacity="0.75" stroke="#a0acce" stroke-width="0.5"/>
<line x1="260.5" y1="284.1" x2="272.3" y2="284.1" stroke="#0a0f24" stroke-opacity="0.88" stroke-width="1.3"/>
<circle cx="284.3" cy="225.5" r="1.15" fill="#d3daeb" fill-opacity="0.75" stroke="#a0acce" stroke-width="0.5"/>
<circle cx="279.8" cy="236.5" r="1.15" fill="#d3daeb" fill-opacity="0.75" stroke="#a0acce" stroke-width="0.5"/>
<circle cx="282.8" cy="237.4" r="1.15" fill="#d3daeb" fill-opacity="0.75" stroke="#a0acce" stroke-width="0.5"/>
<circle cx="285.8" cy="238.0" r="1.15" fill="#d3daeb" fill-opacity="0.75" stroke="#a0acce" stroke-width="0.5"/>
<circle cx="288.7" cy="236.5" r="1.15" fill="#d3daeb" fill-opacity="0.75" stroke="#a0acce" stroke-width="0.5"/>
<circle cx="285.8" cy="241.0" r="1.15" fill="#d3daeb" fill-opacity="0.75" stroke="#a0acce" stroke-width="0.5"/>
<circle cx="282.8" cy="242.5" r="1.15" fill="#d3daeb" fill-opacity="0.75" stroke="#a0acce" stroke-width="0.5"/>
<circle cx="282.8" cy="246.6" r="1.15" fill="#d3daeb" fill-opacity="0.75" stroke="#a0acce" stroke-width="0.5"/>
<circle cx="285.8" cy="247.6" r="1.15" fill="#d3daeb" fill-opacity="0.75" stroke="#a0acce" stroke-width="0.5"/>
<circle cx="285.8" cy="249.4" r="1.15" fill="#d3daeb" fill-opacity="0.75" stroke="#a0acce" stroke-width="0.5"/>
<circle cx="282.8" cy="251.0" r="1.15" fill="#d3daeb" fill-opacity="0.75" stroke="#a0acce" stroke-width="0.5"/>
<circle cx="279.8" cy="256.3" r="1.15" fill="#d3daeb" fill-opacity="0.75" stroke="#a0acce" stroke-width="0.5"/>
<circle cx="282.8" cy="258.2" r="1.15" fill="#d3daeb" fill-opacity="0.75" stroke="#a0acce" stroke-width="0.5"/>
<circle cx="285.8" cy="258.2" r="1.15" fill="#d3daeb" fill-opacity="0.75" stroke="#a0acce" stroke-width="0.5"/>
<circle cx="288.7" cy="256.3" r="1.15" fill="#d3daeb" fill-opacity="0.75" stroke="#a0acce" stroke-width="0.5"/>
<circle cx="284.3" cy="270.3" r="1.15" fill="#d3daeb" fill-opacity="0.75" stroke="#a0acce" stroke-width="0.5"/>
<line x1="278.3" y1="247.1" x2="290.2" y2="247.1" stroke="#0a0f24" stroke-opacity="0.88" stroke-width="1.3"/>
<circle cx="302.4" cy="200.1" r="1.15" fill="#d3daeb" fill-opacity="0.75" stroke="#a0acce" stroke-width="0.5"/>
<circle cx="302.4" cy="215.7" r="1.15" fill="#d3daeb" fill-opacity="0.75" stroke="#a0acce" stroke-width="0.5"/>
<circle cx="300.8" cy="221.7" r="1.15" fill="#d3daeb" fill-opacity="0.75" stroke="#a0acce" stroke-width="0.5"/>
<circle cx="303.9" cy="222.4" r="1.15" fill="#d3daeb" fill-opacity="0.75" stroke="#a0acce" stroke-width="0.5"/>
<circle cx="302.4" cy="229.5" r="1.15" fill="#d3daeb" fill-opacity="0.75" stroke="#a0acce" stroke-width="0.5"/>
<circle cx="300.8" cy="237.8" r="1.15" fill="#d3daeb" fill-opacity="0.75" stroke="#a0acce" stroke-width="0.5"/>
<circle cx="303.9" cy="237.8" r="1.15" fill="#d3daeb" fill-opacity="0.75" stroke="#a0acce" stroke-width="0.5"/>
<circle cx="299.5" cy="239.5" r="1.15" fill="#d3daeb" fill-opacity="0.75" stroke="#a0acce" stroke-width="0.5"/>
<circle cx="305.4" cy="239.5" r="1.15" fill="#d3daeb" fill-opacity="0.75" stroke="#a0acce" stroke-width="0.5"/>
<circle cx="302.4" cy="241.9" r="1.15" fill="#d3daeb" fill-opacity="0.75" stroke="#a0acce" stroke-width="0.5"/>
<circle cx="303.9" cy="241.9" r="1.15" fill="#d3daeb" fill-opacity="0.75" stroke="#a0acce" stroke-width="0.5"/>
<circle cx="302.4" cy="257.2" r="1.15" fill="#d3daeb" fill-opacity="0.75" stroke="#a0acce" stroke-width="0.5"/>
<circle cx="299.5" cy="260.2" r="1.15" fill="#d3daeb" fill-opacity="0.75" stroke="#a0acce" stroke-width="0.5"/>
<circle cx="305.4" cy="260.2" r="1.15" fill="#d3daeb" fill-opacity="0.75" stroke="#a0acce" stroke-width="0.5"/>
<circle cx="302.4" cy="262.6" r="1.15" fill="#d3daeb" fill-opacity="0.75" stroke="#a0acce" stroke-width="0.5"/>
<line x1="296.3" y1="239.5" x2="308.2" y2="239.5" stroke="#0a0f24" stroke-opacity="0.88" stroke-width="1.3"/>
<circle cx="320.4" cy="209.8" r="1.15" fill="#d3daeb" fill-opacity="0.75" stroke="#a0acce" stroke-width="0.5"/>
<circle cx="318.5" cy="221.7" r="1.15" fill="#d3daeb" fill-opacity="0.75" stroke="#a0acce" stroke-width="0.5"/>
<circle cx="321.7" cy="221.2" r="1.15" fill="#d3daeb" fill-opacity="0.75" stroke="#a0acce" stroke-width="0.5"/>
<circle cx="320.4" cy="230.3" r="1.15" fill="#d3daeb" fill-opacity="0.75" stroke="#a0acce" stroke-width="0.5"/>
<circle cx="320.4" cy="234.6" r="1.15" fill="#d3daeb" fill-opacity="0.75" stroke="#a0acce" stroke-width="0.5"/>
<circle cx="315.8" cy="235.3" r="1.15" fill="#d3daeb" fill-opacity="0.75" stroke="#a0acce" stroke-width="0.5"/>
<circle cx="317.5" cy="237.5" r="1.15" fill="#d3daeb" fill-opacity="0.75" stroke="#a0acce" stroke-width="0.5"/>
<circle cx="323.5" cy="237.5" r="1.15" fill="#d3daeb" fill-opacity="0.75" stroke="#a0acce" stroke-width="0.5"/>
<circle cx="321.7" cy="241.3" r="1.15" fill="#d3daeb" fill-opacity="0.75" stroke="#a0acce" stroke-width="0.5"/>
<circle cx="318.5" cy="242.5" r="1.15" fill="#d3daeb" fill-opacity="0.75" stroke="#a0acce" stroke-width="0.5"/>
<circle cx="320.4" cy="249.3" r="1.15" fill="#d3daeb" fill-opacity="0.75" stroke="#a0acce" stroke-width="0.5"/>
<circle cx="320.4" cy="254.7" r="1.15" fill="#d3daeb" fill-opacity="0.75" stroke="#a0acce" stroke-width="0.5"/>
<circle cx="318.5" cy="257.6" r="1.15" fill="#d3daeb" fill-opacity="0.75" stroke="#a0acce" stroke-width="0.5"/>
<circle cx="321.7" cy="258.2" r="1.15" fill="#d3daeb" fill-opacity="0.75" stroke="#a0acce" stroke-width="0.5"/>
<circle cx="320.4" cy="270.3" r="1.15" fill="#d3daeb" fill-opacity="0.75" stroke="#a0acce" stroke-width="0.5"/>
<line x1="314.3" y1="237.5" x2="326.2" y2="237.5" stroke="#0a0f24" stroke-opacity="0.88" stroke-width="1.3"/>
<rect x="0" y="0" width="520" height="1" fill="#000"/>
<rect x="0" y="0" width="1.1" height="319" fill="#000"/>
<rect x="518.7" y="0" width="1.3" height="319" fill="#000"/>
<rect x="0" y="317.8" width="520" height="1.2" fill="#000"/>
</svg>
</body>
</html>
